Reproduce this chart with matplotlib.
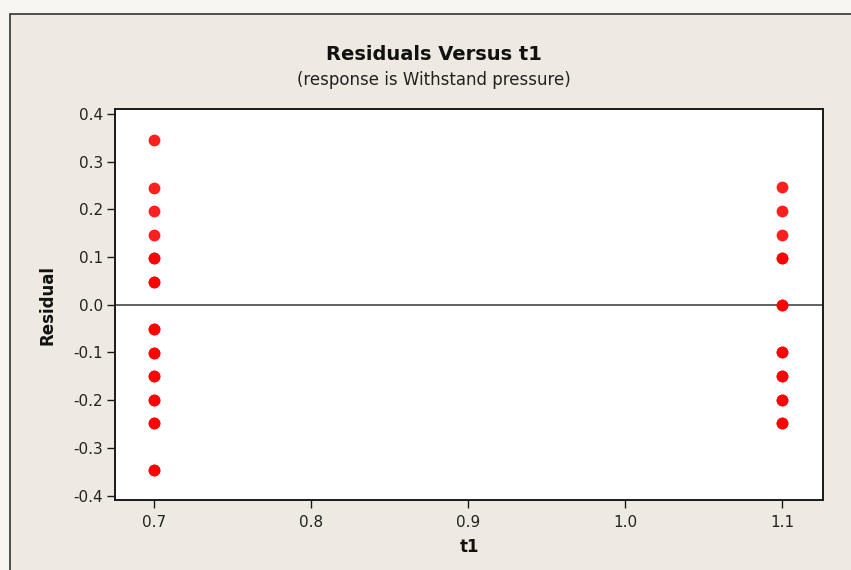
import matplotlib
matplotlib.use("Agg")
import matplotlib.pyplot as plt
from matplotlib.patches import Rectangle

# ── Data ─────────────────────────────────────────────────────
t1_low = 0.7
t1_high = 1.1
# residuals at t1 = 0.7 (repeats drawn twice, they overlap)
resid_low = [0.345, 0.245, 0.196, 0.147, 0.098, 0.098, 0.047, 0.047,
             -0.051, -0.051, -0.101, -0.101, -0.150, -0.150, -0.199, -0.199,
             -0.248, -0.248, -0.347, -0.347]
# residuals at t1 = 1.1
resid_high = [0.246, 0.196, 0.147, 0.098, 0.098, 0.0, 0.0,
              -0.100, -0.100, -0.150, -0.150, -0.199, -0.199, -0.248, -0.248]

x_ticks = [0.7, 0.8, 0.9, 1.0, 1.1]
y_ticks = [0.4, 0.3, 0.2, 0.1, 0.0, -0.1, -0.2, -0.3, -0.4]

BG = "#eeeae1"
OUTSIDE = "#f8f6f2"

plt.rcParams["font.family"] = ["DejaVu Sans"]

fig = plt.figure(figsize=(8.51, 5.70), dpi=100, facecolor=OUTSIDE)

# ── Outer frame of the graph window ──────────────────────────
frame = Rectangle((10 / 851, -0.05), 1.05, 1 - 14 / 570 + 0.05,
                  transform=fig.transFigure, facecolor=BG,
                  edgecolor="#333333", linewidth=1.2, clip_on=False, zorder=-10)
fig.patches.append(frame)

ax = fig.add_axes([115 / 851, 1 - 500 / 570, 708 / 851, 391 / 570])
ax.set_zorder(5)
ax.set_facecolor("white")

xs_low = [t1_low] * len(resid_low)
xs_high = [t1_high] * len(resid_high)
ax.scatter(xs_low, resid_low, s=72, color="#ff0000", alpha=0.88,
           linewidths=0, zorder=3)
ax.scatter(xs_high, resid_high, s=72, color="#ff0000", alpha=0.88,
           linewidths=0, zorder=3)

ax.axhline(0, color="#555555", linewidth=1.3, zorder=2)

ax.set_xlim(0.6752, 1.126)
ax.set_ylim(-0.409, 0.41)
ax.set_xticks(x_ticks)
ax.set_xticklabels([f"{v:.1f}" for v in x_ticks])
ax.set_yticks(y_ticks)
ax.set_yticklabels([f"{v:.1f}" for v in y_ticks])

for side in ["left", "bottom", "right", "top"]:
    ax.spines[side].set_linewidth(1.4)
    ax.spines[side].set_color("#1a1a1a")

ax.tick_params(axis="both", direction="out", length=5.8, width=1.0,
               labelsize=11, labelcolor="#222222", color="#1a1a1a")
ax.tick_params(axis="y", pad=3)
ax.tick_params(axis="x", pad=5)

ax.set_xlabel("t1", fontsize=12, fontweight="bold", color="#111111")
ax.set_ylabel("Residual", fontsize=12, fontweight="bold", color="#111111")
ax.xaxis.label.set_va("center")
ax.yaxis.label.set_va("center")
ax.xaxis.set_label_coords((469 - 115) / 708, (500 - 547) / 391)
ax.yaxis.set_label_coords((47 - 115) / 708, (500 - 305) / 391)

# ── Titles ────────────────────────────────────────────────────
fig.text(434 / 851, 1 - 55 / 570, "Residuals Versus t1", ha="center",
         va="center", fontsize=14, fontweight="bold", color="#111111")
fig.text(434 / 851, 1 - 80 / 570, "(response is Withstand pressure)",
         ha="center", va="center", fontsize=12, color="#222222")

fig.savefig("out.png", dpi=100, facecolor=fig.get_facecolor())
